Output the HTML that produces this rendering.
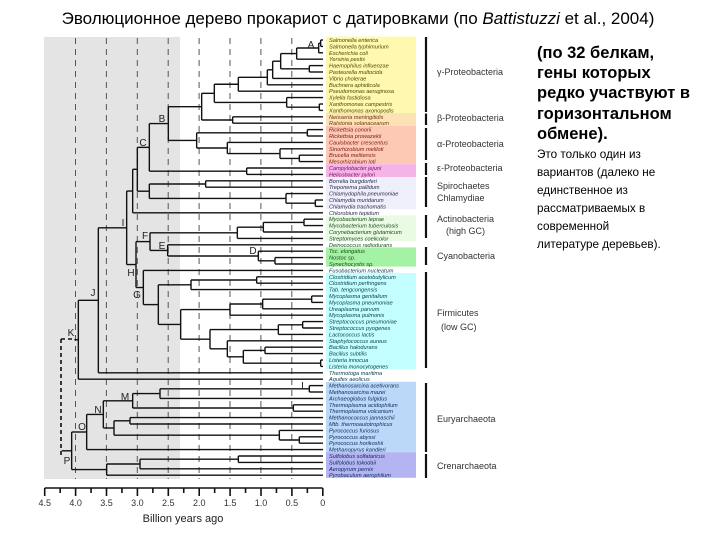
<!DOCTYPE html>
<html><head><meta charset="utf-8"><style>
body{margin:0;background:#fff;width:720px;height:540px;overflow:hidden;font-family:"Liberation Sans",sans-serif}
svg{position:absolute;left:0;top:0}
.lf{font-size:5.6px;font-style:italic}
.gl{font-size:9px;fill:#333}
.nl{font-size:10px;fill:#222}
</style></head><body>
<svg id="s" width="720" height="540" viewBox="0 0 720 540" xmlns="http://www.w3.org/2000/svg">
<text x="358" y="24" font-size="17" text-anchor="middle" fill="#000">Эволюционное дерево прокариот с датировками (по <tspan font-style="italic">Battistuzzi</tspan> et al., 2004)</text>
<rect x="44" y="37" width="136" height="442" fill="#e4e4e4"/>
<rect x="326" y="36.5" width="90" height="76.5" fill="#fff8b0"/>
<rect x="326" y="113" width="90" height="12.8" fill="#fde2b8"/>
<rect x="326" y="125.8" width="90" height="38.4" fill="#fdc9b4"/>
<rect x="326" y="164.2" width="90" height="12.8" fill="#f6b4e6"/>
<rect x="326" y="177" width="90" height="32" fill="#efeffc"/>
<rect x="326" y="215.4" width="90" height="25.6" fill="#eafbe4"/>
<rect x="326" y="247.4" width="90" height="19.2" fill="#a4f2a4"/>
<rect x="326" y="273" width="90" height="96" fill="#c4ffff"/>
<rect x="326" y="381.8" width="90" height="70.4" fill="#bcd8f8"/>
<rect x="326" y="452.2" width="90" height="25.6" fill="#b4b4f2"/>
<g id="dash" stroke="#555" stroke-width="1" stroke-dasharray="6,5"></g>
<g id="tree" stroke="#111" stroke-width="1.4" fill="none"></g>
<g id="axis" stroke="#111" stroke-width="1.6"></g>
<g id="leaves">
<g class="lf" fill="#4a4a00">
<text x="329" y="42">Salmonella enterica</text><text x="329" y="48.4">Salmonella typhimurium</text><text x="329" y="54.8">Escherichia coli</text><text x="329" y="61.2">Yersinia pestis</text><text x="329" y="67.6">Haemophilus influenzae</text><text x="329" y="74">Pasteurella multocida</text><text x="329" y="80.4">Vibrio cholerae</text><text x="329" y="86.8">Buchnera aphidicola</text><text x="329" y="93.2">Pseudomonas aeruginosa</text><text x="329" y="99.6">Xylella fastidiosa</text><text x="329" y="106">Xanthomonas campestris</text><text x="329" y="112.4">Xanthomonas axonopodis</text></g>
<g class="lf" fill="#6a3a00"><text x="329" y="118.8">Neisseria meningitidis</text><text x="329" y="125.2">Ralstonia solanacearum</text></g>
<g class="lf" fill="#7a1a1a"><text x="329" y="131.6">Rickettsia conorii</text><text x="329" y="138">Rickettsia prowazekii</text><text x="329" y="144.4">Caulobacter crescentus</text><text x="329" y="150.8">Sinorhizobium meliloti</text><text x="329" y="157.2">Brucella melitensis</text><text x="329" y="163.6">Mesorhizobium loti</text></g>
<g class="lf" fill="#7a0a6a"><text x="329" y="170">Campylobacter jejuni</text><text x="329" y="176.4">Helicobacter pylori</text></g>
<g class="lf" fill="#2a2a4a"><text x="329" y="182.8">Borrelia burgdorferi</text><text x="329" y="189.2">Treponema pallidum</text><text x="329" y="195.6">Chlamydophila pneumoniae</text><text x="329" y="202">Chlamydia muridarum</text><text x="329" y="208.4">Chlamydia trachomatis</text><text x="329" y="214.8">Chlorobium tepidum</text></g>
<g class="lf" fill="#1a4a1a"><text x="329" y="221.2">Mycobacterium leprae</text><text x="329" y="227.6">Mycobacterium tuberculosis</text><text x="329" y="234">Corynebacterium glutamicum</text><text x="329" y="240.4">Streptomyces coelicolor</text><text x="329" y="246.8">Deinococcus radiodurans</text><text x="329" y="253.2">Tsc. elongatus</text><text x="329" y="259.6">Nostoc sp.</text><text x="329" y="266">Synechocystis sp.</text></g>
<g class="lf" fill="#0a3a4a"><text x="329" y="272.4">Fusobacterium nucleatum</text><text x="329" y="278.8">Clostridium acetobutylicum</text><text x="329" y="285.2">Clostridium perfringens</text><text x="329" y="291.6">Tab. tengcongensis</text><text x="329" y="298">Mycoplasma genitalium</text><text x="329" y="304.4">Mycoplasma pneumoniae</text><text x="329" y="310.8">Ureaplasma parvum</text><text x="329" y="317.2">Mycoplasma pulmonis</text><text x="329" y="323.6">Streptococcus pneumoniae</text><text x="329" y="330">Streptococcus pyogenes</text><text x="329" y="336.4">Lactococcus lactis</text><text x="329" y="342.8">Staphylococcus aureus</text><text x="329" y="349.2">Bacillus halodurans</text><text x="329" y="355.6">Bacillus subtilis</text><text x="329" y="362">Listeria innocua</text><text x="329" y="368.4">Listeria monocytogenes</text><text x="329" y="374.8">Thermotoga maritima</text><text x="329" y="381.2">Aquifex aeolicus</text></g>
<g class="lf" fill="#0a2a5a"><text x="329" y="387.6">Methanosarcina acetivorans</text><text x="329" y="394">Methanosarcina mazei</text><text x="329" y="400.4">Archaeoglobus fulgidus</text><text x="329" y="406.8">Thermoplasma acidophilum</text><text x="329" y="413.2">Thermoplasma volcanium</text><text x="329" y="419.6">Methanococcus jannaschii</text><text x="329" y="426">Mtb. thermoautotrophicus</text><text x="329" y="432.4">Pyrococcus furiosus</text><text x="329" y="438.8">Pyrococcus abyssi</text><text x="329" y="445.2">Pyrococcus horikoshii</text><text x="329" y="451.6">Methanopyrus kandleri</text><text x="329" y="458">Sulfolobus solfataricus</text><text x="329" y="464.4">Sulfolobus tokodaii</text><text x="329" y="470.8">Aeropyrum pernix</text><text x="329" y="477.2">Pyrobaculum aerophilum</text></g>
</g>
<g stroke="#111" stroke-width="2.2">
<line x1="426" y1="37" x2="426" y2="112"/><line x1="426" y1="113.5" x2="426" y2="125"/><line x1="426" y1="128" x2="426" y2="160"/><line x1="426" y1="163" x2="426" y2="175"/><line x1="426" y1="177" x2="426" y2="207"/><line x1="426" y1="215" x2="426" y2="238"/><line x1="426" y1="247" x2="426" y2="265"/><line x1="426" y1="272" x2="426" y2="368"/><line x1="426" y1="383" x2="426" y2="452"/><line x1="426" y1="454" x2="426" y2="478"/>
</g>
<g class="gl">
<text x="437" y="75">γ-Proteobacteria</text><text x="437" y="121">β-Proteobacteria</text><text x="437" y="147">α-Proteobacteria</text><text x="437" y="171">ε-Proteobacteria</text><text x="437" y="189">Spirochaetes</text><text x="437" y="201">Chlamydiae</text><text x="437" y="222">Actinobacteria</text><text x="446" y="234">(high GC)</text><text x="437" y="259">Cyanobacteria</text><text x="437" y="316">Firmicutes</text><text x="441" y="330">(low GC)</text><text x="437" y="422">Euryarchaeota</text><text x="437" y="469">Crenarchaeota</text>
</g>
<g class="nl" text-anchor="middle">
<text x="311" y="48">A</text><text x="162" y="122">B</text><text x="143" y="146">C</text><text x="253" y="254">D</text><text x="162" y="249">E</text><text x="145" y="239">F</text><text x="137" y="298">G</text><text x="131" y="276">H</text><text x="123" y="226">I</text><text x="93" y="296">J</text><text x="71" y="336">K</text><text x="304" y="389">L</text><text x="125" y="400">M</text><text x="98" y="413">N</text><text x="82" y="430">O</text><text x="67" y="464">P</text>
</g>
<g font-size="9" fill="#333" text-anchor="middle">
<text x="44.7" y="506">4.5</text><text x="75.6" y="506">4.0</text><text x="106.5" y="506">3.5</text><text x="137.4" y="506">3.0</text><text x="168.3" y="506">2.5</text><text x="199.2" y="506">2.0</text><text x="230.1" y="506">1.5</text><text x="261" y="506">1.0</text><text x="291.9" y="506">0.5</text><text x="322.7" y="506">0</text>
</g>
<text x="183" y="522" font-size="11" fill="#222" text-anchor="middle">Billion years ago</text>
<g font-size="16.5" font-weight="bold" fill="#000">
<text x="537" y="58">(по 32 белкам,</text><text x="537" y="78">гены которых</text><text x="537" y="98">редко участвуют в</text><text x="537" y="119">горизонтальном</text><text x="537" y="139">обмене).</text>
</g>
<g font-size="11.7" fill="#000">
<text x="537" y="158">Это только один из</text><text x="537" y="176">вариантов (далеко не</text><text x="537" y="194">единственное из</text><text x="537" y="212">рассматриваемых в</text><text x="537" y="230">современной</text><text x="537" y="248">литературе деревьев).</text>
</g>
</svg>
<script>
var NS="http://www.w3.org/2000/svg";
function L(g,x1,y1,x2,y2,extra){var e=document.createElementNS(NS,"line");e.setAttribute("x1",x1);e.setAttribute("y1",y1);e.setAttribute("x2",x2);e.setAttribute("y2",y2);if(extra)for(var k in extra)e.setAttribute(k,extra[k]);g.appendChild(e);}
var tree=document.getElementById("tree"),dash=document.getElementById("dash"),ax=document.getElementById("axis");
function X(z){return z/3+30;}
var LX=323;
function ly(i){return 40+(i-1)*6.4;}
function draw(n){ if(typeof n==="number") return {x:LX,y:ly(n)};
 var x=X(n[0]),a=draw(n[1]),b=draw(n[2]);
 L(tree,x,a.y,a.x,a.y);L(tree,x,b.y,b.x,b.y);L(tree,x,a.y,x,b.y);
 return {x:x,y:(a.y+b.y)/2};}
var g1=[866,[872,1,2],3],g2=[800,g1,4],g3=[752,g2,[838,5,6]],g4=[728,g3,7],g5=[712,g4,8],g6=[625,g5,9],
g7=[553,g6,[770,10,[868,11,12]]],gb=[515,g7,[608,13,14]],al=[500,[832,15,16],[592,17,[750,18,[808,19,20]]]],
B=[415,gb,al],c1=[358,B,[650,21,22]],c2=[358,[527,23,24],[768,25,[856,26,27]]],C=[322,c1,c2],c3=[308,C,28],
act=[622,[700,[822,29,30],31],32],E=[413,33,[685,34,[735,35,36]]],F=[360,act,E],
myco=[600,[698,[845,41,42],43],44],strep=[540,[745,[818,45,46],47],[592,48,[640,[705,49,50],[872,51,52]]]],
n452=[452,myco,strep],n385=[385,[483,[680,38,39],40],n452],G=[340,37,n385],H=[318,F,G],n290=[290,c3,H],
I=[205,n290,53],J=[145,I,54];
var M=[308,[390,[838,55,56],57],[790,58,59]],n252=[252,[300,60,61],[748,62,[808,63,64]]],N=[220,M,n252],O=[170,N,65],
P=[125,O,[230,[330,[625,66,67],68],69]];
for(var t=0.5;t<=4.01;t+=0.5){var x=322.7-61.8*t;L(dash,x,38,x,479);}
var rj=draw(J),rp=draw(P);
L(tree,rj.x-4,rj.y,rj.x,rj.y);L(tree,rp.x-10,rp.y,rp.x,rp.y);
L(tree,61,339,61,455,{"stroke-dasharray":"4,3","stroke-width":"1.6"});
L(tree,61,339,72,339,{"stroke-dasharray":"4,3","stroke-width":"1.6"});
L(ax,44.7,488,322.7,488);
for(var i=0;i<=18;i++){var x=44.7+i*15.45;L(ax,x,488,x,(i%2==0)?496:493);}
</script>
</body></html>
